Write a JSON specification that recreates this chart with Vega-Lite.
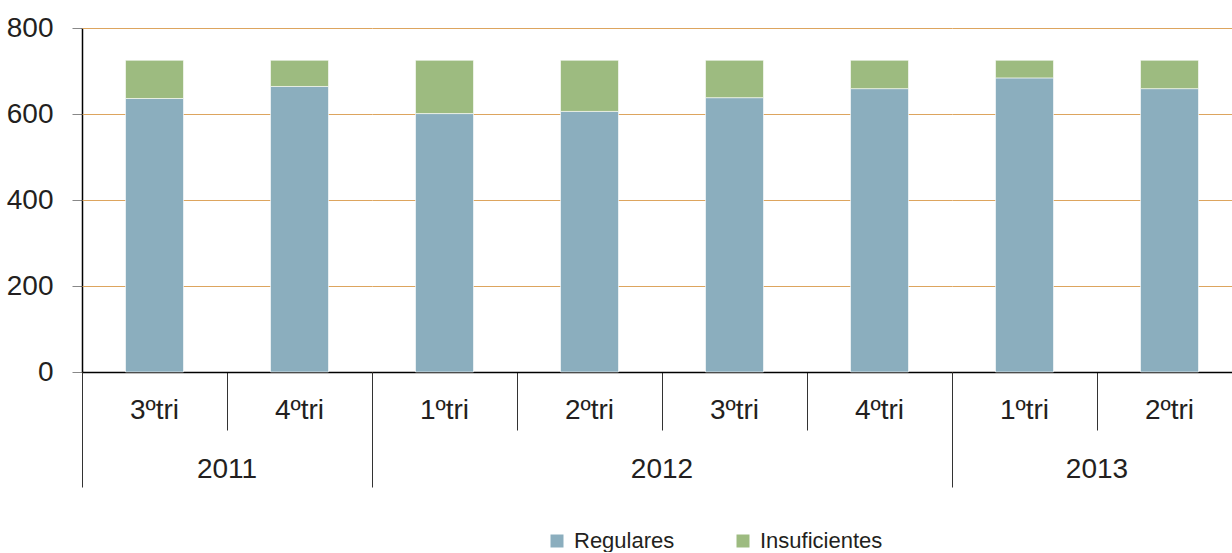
{
  "$schema": "https://vega.github.io/schema/vega-lite/v6.json",
  "autosize": {"type": "pad"},
  "padding": {"left": 6, "top": 14, "right": 0, "bottom": 0},
  "background": "#ffffff",
  "bounds": "flush",
  "data": {
    "values": [
      {"anio": "2011", "trimestre": "3ºtri", "serie": "Regulares", "valor": 636},
      {"anio": "2011", "trimestre": "3ºtri", "serie": "Insuficientes", "valor": 89},
      {"anio": "2011", "trimestre": "4ºtri", "serie": "Regulares", "valor": 664},
      {"anio": "2011", "trimestre": "4ºtri", "serie": "Insuficientes", "valor": 61},
      {"anio": "2012", "trimestre": "1ºtri", "serie": "Regulares", "valor": 601},
      {"anio": "2012", "trimestre": "1ºtri", "serie": "Insuficientes", "valor": 124},
      {"anio": "2012", "trimestre": "2ºtri", "serie": "Regulares", "valor": 606},
      {"anio": "2012", "trimestre": "2ºtri", "serie": "Insuficientes", "valor": 119},
      {"anio": "2012", "trimestre": "3ºtri", "serie": "Regulares", "valor": 638},
      {"anio": "2012", "trimestre": "3ºtri", "serie": "Insuficientes", "valor": 87},
      {"anio": "2012", "trimestre": "4ºtri", "serie": "Regulares", "valor": 659},
      {"anio": "2012", "trimestre": "4ºtri", "serie": "Insuficientes", "valor": 66},
      {"anio": "2013", "trimestre": "1ºtri", "serie": "Regulares", "valor": 684},
      {"anio": "2013", "trimestre": "1ºtri", "serie": "Insuficientes", "valor": 41},
      {"anio": "2013", "trimestre": "2ºtri", "serie": "Regulares", "valor": 659},
      {"anio": "2013", "trimestre": "2ºtri", "serie": "Insuficientes", "valor": 66}
    ]
  },
  "facet": {
    "column": {
      "field": "anio",
      "type": "ordinal",
      "header": {
        "title": null,
        "labelOrient": "bottom",
        "labelFont": "Liberation Sans",
        "labelFontSize": 28,
        "labelColor": "#231f20",
        "labelPadding": 84
      }
    }
  },
  "spacing": 0,
  "resolve": {"scale": {"x": "independent"}},
  "spec": {
    "width": {"step": 145},
    "height": 344,
    "mark": {"type": "bar", "stroke": "#ffffff", "strokeOpacity": 0.6, "strokeWidth": 1},
    "encoding": {
      "x": {
        "field": "trimestre",
        "type": "nominal",
        "sort": null,
        "scale": {"paddingInner": 0.6, "paddingOuter": 0.3},
        "axis": {
          "title": null,
          "labelAngle": 0,
          "labelAlign": "center",
          "labelOffset": 0,
          "domainColor": "#000000",
          "domainWidth": 1.5,
          "tickColor": "#333333",
          "tickWidth": 1,
          "bandPosition": -0.75,
          "tickSize": {"condition": {"test": "datum.index == 0", "value": 115}, "value": 58},
          "labelPadding": {"condition": {"test": "datum.index == 0", "value": -91}, "value": -34},
          "labelFont": "Liberation Sans",
          "labelFontSize": 28,
          "labelColor": "#231f20"
        }
      },
      "y": {
        "field": "valor",
        "type": "quantitative",
        "stack": "zero",
        "scale": {"domain": [0, 800]},
        "axis": {
          "title": null,
          "values": [0, 200, 400, 600, 800],
          "grid": true,
          "gridColor": "#DDA55E",
          "gridWidth": 1.2,
          "domainColor": "#000000",
          "domainWidth": 1.5,
          "tickColor": "#888888",
          "tickSize": 10,
          "labelPadding": 19,
          "labelFont": "Liberation Sans",
          "labelFontSize": 28,
          "labelColor": "#231f20"
        }
      },
      "color": {
        "field": "serie",
        "type": "nominal",
        "scale": {"domain": ["Regulares", "Insuficientes"], "range": ["#8BAEBE", "#9DBB80"]},
        "legend": {
          "title": null,
          "orient": "none",
          "legendX": 464,
          "legendY": 502,
          "direction": "horizontal",
          "symbolType": "square",
          "symbolSize": 169,
          "symbolStrokeWidth": 0,
          "labelFont": "Liberation Sans",
          "labelFontSize": 22,
          "labelColor": "#231f20",
          "labelOffset": 6,
          "columnPadding": 57
        }
      }
    }
  },
  "config": {
    "view": {"stroke": null},
    "axisY": {"gridColor": "#DDA55E", "gridWidth": 1.2}
  }
}
